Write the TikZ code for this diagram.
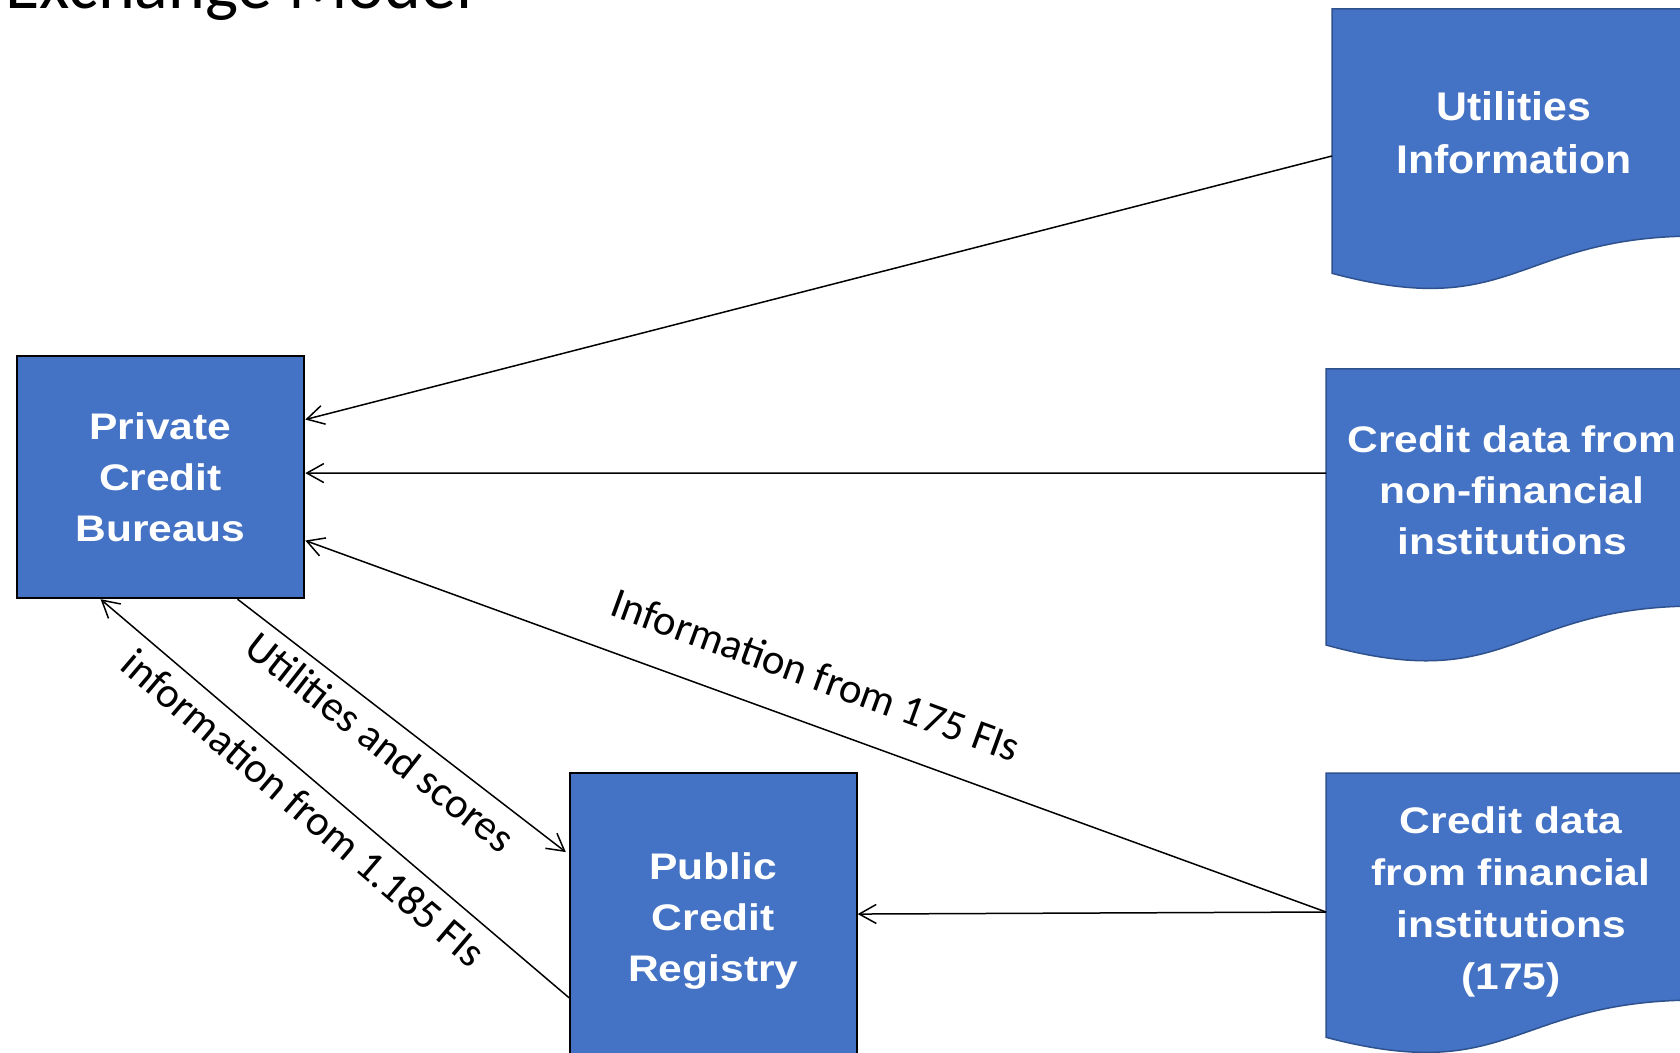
\documentclass[tikz,border=0pt]{standalone}
\usepackage{fontspec}
\setmainfont{Liberation Sans}
\newfontfamily\boxfontA[FakeStretch=1.15]{Liberation Sans Bold}
\newfontfamily\boxfontB[FakeStretch=1.07]{Liberation Sans Bold}
\newfontfamily\labelfont{Carlito}
\usetikzlibrary{arrows.meta,calc}
\definecolor{boxblue}{HTML}{4472C4}
\definecolor{edgeblue}{HTML}{2F528F}
\begin{document}
\begin{tikzpicture}[x=0.5pt,y=-0.5pt,
  conn/.style={draw=black, line width=0.75pt, -{Straight Barb[length=8.5pt,width=9.5pt]}},
  rectbox/.style={draw=black, line width=1pt, fill=boxblue, text=white, align=center, inner sep=0pt, font=\boxfontA\fontsize{18.5}{25.5}\selectfont},
  docshape/.style={draw=edgeblue, line width=0.75pt, fill=boxblue},
  doctext/.style={text=white, align=center, inner sep=0pt, anchor=north},
  flowlabel/.style={inner sep=0pt, font=\labelfont\fontsize{21.4}{25}\selectfont, text=black}]
\useasboundingbox (0,0) rectangle (1680,1053);
\clip (0,0) rectangle (1680,1053);
\fill[white] (0,0) rectangle (1680,1053);

% title (cut off at the top)
\node[anchor=base east, inner sep=0pt, font=\labelfont\fontsize{35}{40}\selectfont] (title) at (473,9) {Exchange Model};

% document shapes
\path[docshape] (1332,9) -- (1698,9) -- (1698,236) .. controls (1515,236) and (1515,322.4) .. (1332,273.3) -- cycle;
\node[doctext, font=\boxfontB\fontsize{20}{26.5}\selectfont] (util) at (1514,91) {Utilities\\Information};
\coordinate (util-w) at (1332,156);

\path[docshape] (1326,369) -- (1698,369) -- (1698,606) .. controls (1512,606) and (1512,696.3) .. (1326,645) -- cycle;
\node[doctext, font=\boxfontA\fontsize{18.5}{25.5}\selectfont] (nonfin) at (1512,425) {Credit data from\\non-financial\\institutions};
\coordinate (nonfin-w) at (1326,473);

\path[docshape] (1326,773) -- (1698,773) -- (1698,1000) .. controls (1512,1000) and (1512,1086.4) .. (1326,1037.3) -- cycle;
\node[doctext, font=\boxfontA\fontsize{18.5}{26}\selectfont] (fin) at (1511,806) {Credit data\\from financial\\institutions\\(175)};
\coordinate (fin-w) at (1326,912);

% rectangles
\node[rectbox, minimum width=143.8pt, minimum height=121.2pt] (pcb) at (160.5,477) {Private\\Credit\\Bureaus};
\node[rectbox, minimum width=143.35pt, minimum height=147.85pt] (pcr) at (713.35,921.2) {Public\\Credit\\Registry};

% connectors
\draw[conn] (util-w) -- ($(pcb.north east)!0.265!(pcb.south east)$);
\draw[conn] (nonfin-w) -- ($(pcb.north east)!0.484!(pcb.south east)$);
\draw[conn] (fin-w) -- ($(pcb.north east)!0.76!(pcb.south east)$);
\draw[conn] (fin-w) -- ($(pcr.north east)!0.476!(pcr.south east)$);
\draw[conn, shorten >=2pt] ($(pcb.south west)!0.766!(pcb.south east)$) -- ($(pcr.north west)!0.276!(pcr.south west)$);
\draw[conn] ($(pcr.north west)!0.757!(pcr.south west)$) -- ($(pcb.south west)!0.293!(pcb.south east)$);

% labels
\node[flowlabel, rotate=-20.04] (lab175) at (816,675) {Information from 175 FIs};
\node[flowlabel, rotate=-38.1] (labutil) at (380.7,742) {Utilities and scores};
\node[flowlabel, rotate=-40.5] (lab1185) at (304.3,808) {information from 1.185 FIs};
\end{tikzpicture}
\end{document}
